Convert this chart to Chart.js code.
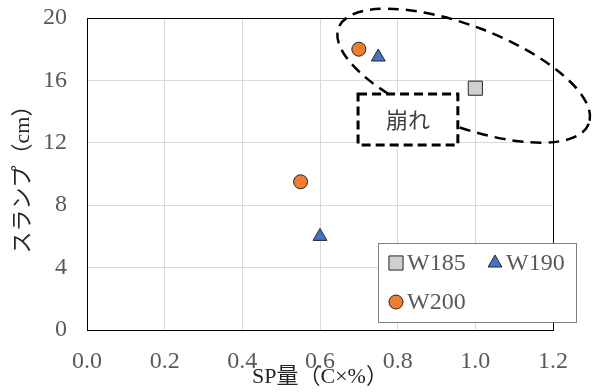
<!DOCTYPE html>
<html>
<head>
<meta charset="utf-8">
<script src="https://cdn.jsdelivr.net/npm/chart.js@4.4.1/dist/chart.umd.min.js"></script>
<style>
  html, body { margin: 0; padding: 0; background: #fff; }
  #wrap { width: 592px; height: 392px; }
</style>
</head>
<body>
<div id="wrap"><canvas id="chart" width="592" height="392"></canvas></div>
<script>
// data
const seriesNames = ['W185', 'W190', 'W200'];
const w185_x = [1.0];
const w185_y = [15.5];
const w190_x = [0.75, 0.6];
const w190_y = [17.5, 6];
const w200_x = [0.7, 0.55];
const w200_y = [18, 9.5];
const xTicks = [0, 0.2, 0.4, 0.6, 0.8, 1.0, 1.2];
const yTicks = [0, 4, 8, 12, 16, 20];
const noteText = '崩れ';

const SERIF = '"Liberation Serif", "Times New Roman", "DejaVu Serif", "Noto Sans CJK JP", serif';

function pts(xs, ys) {
  return xs.map((x, i) => ({ x: x, y: ys[i] }));
}

// dashed ellipse + dashed "崩れ" box, plus the framed legend
const extras = {
  id: 'extras',
  afterDatasetsDraw(chart) {
    const { ctx, chartArea: a, scales: { x, y } } = chart;
    ctx.save();
    // frame on top and right
    ctx.strokeStyle = '#000';
    ctx.lineWidth = 1;
    ctx.strokeRect(a.left + 0.5, a.top + 0.5, a.right - a.left, a.bottom - a.top);

    // ellipse around the upper points
    ctx.setLineDash([11, 7]);
    ctx.lineWidth = 2.5;
    ctx.beginPath();
    ctx.ellipse(x.getPixelForValue(0.97), y.getPixelForValue(16.3), 134, 50, 21 * Math.PI / 180, 0, Math.PI * 2);
    ctx.stroke();

    // box with label
    const bx1 = x.getPixelForValue(0.698), bx2 = x.getPixelForValue(0.955);
    const by1 = y.getPixelForValue(15.13), by2 = y.getPixelForValue(11.86);
    ctx.fillStyle = '#fff';
    ctx.fillRect(bx1, by1, bx2 - bx1, by2 - by1);
    ctx.setLineDash([9, 5]);
    ctx.lineWidth = 3;
    ctx.strokeRect(bx1, by1, bx2 - bx1, by2 - by1);
    ctx.setLineDash([]);
    ctx.fillStyle = '#404040';
    ctx.font = '22px "Noto Sans CJK JP", sans-serif';
    ctx.textAlign = 'center';
    ctx.textBaseline = 'middle';
    ctx.fillText(noteText, (bx1 + bx2) / 2, (by1 + by2) / 2);
    ctx.restore();
  },
  afterDraw(chart) {
    const { ctx, chartArea: a } = chart;
    const ds = chart.data.datasets;
    const lx = a.right - 175, ly = a.bottom - 87, lw = 198, lh = 79;
    ctx.save();
    ctx.fillStyle = '#fff';
    ctx.fillRect(lx, ly, lw, lh);
    ctx.strokeStyle = '#7f7f7f';
    ctx.lineWidth = 1;
    ctx.strokeRect(lx + 0.5, ly + 0.5, lw, lh);
    const slots = [[lx + 18, ly + 20], [lx + 117, ly + 20], [lx + 18, ly + 59]];
    ctx.font = '24px ' + SERIF;
    ctx.textBaseline = 'middle';
    ctx.textAlign = 'left';
    ds.forEach((d, i) => {
      const [px, py] = slots[i];
      ctx.fillStyle = d.backgroundColor;
      ctx.strokeStyle = d.borderColor;
      ctx.lineWidth = 1;
      Chart.helpers.drawPoint(ctx, {
        pointStyle: d.pointStyle,
        radius: d.pointRadius,
        rotation: 0,
        borderWidth: 1
      }, px, py);
      ctx.fillStyle = '#595959';
      ctx.fillText(d.label, px + 11, py + 1);
    });
    ctx.restore();
  }
};

new Chart(document.getElementById('chart'), {
  type: 'scatter',
  data: {
    datasets: [
      {
        label: seriesNames[0],
        data: pts(w185_x, w185_y),
        pointStyle: 'rect',
        pointRadius: 10,
        backgroundColor: '#d0cece',
        borderColor: '#262626',
        borderWidth: 1
      },
      {
        label: seriesNames[1],
        data: pts(w190_x, w190_y),
        pointStyle: 'triangle',
        pointRadius: 8,
        backgroundColor: '#4472c4',
        borderColor: '#262626',
        borderWidth: 1
      },
      {
        label: seriesNames[2],
        data: pts(w200_x, w200_y),
        pointStyle: 'circle',
        pointRadius: 7,
        backgroundColor: '#ed7d31',
        borderColor: '#262626',
        borderWidth: 1
      }
    ]
  },
  options: {
    responsive: false,
    animation: false,
    devicePixelRatio: 1,
    layout: { padding: { top: 18, right: 39, left: 0, bottom: 0 } },
    plugins: {
      legend: { display: false },
      tooltip: { enabled: false }
    },
    scales: {
      x: {
        type: 'linear',
        min: 0,
        max: 1.2,
        afterBuildTicks: axis => { axis.ticks = xTicks.map(v => ({ value: v })); },
        afterFit: axis => {
          axis.height = 62;
          axis.paddingLeft = 0;
          axis.paddingRight = 0;
        },
        ticks: {
          callback: v => Number(v).toFixed(1),
          font: { family: SERIF, size: 24 },
          color: '#595959',
          padding: 17,
          maxRotation: 0
        },
        grid: { color: '#d9d9d9', drawTicks: false },
        border: { display: true, color: '#000', width: 1 },
        title: {
          display: true,
          text: 'SP量（C×%）',
          font: { family: SERIF, size: 22, lineHeight: 1 },
          color: '#262626',
          padding: { top: 0, bottom: 4 }
        }
      },
      y: {
        min: 0,
        max: 20,
        afterBuildTicks: axis => { axis.ticks = yTicks.map(v => ({ value: v })); },
        afterFit: axis => {
          axis.width = 87;
          axis.paddingTop = 0;
          axis.paddingBottom = 0;
        },
        ticks: {
          font: { family: SERIF, size: 24 },
          color: '#595959',
          padding: 20
        },
        grid: { color: '#d9d9d9', drawTicks: false },
        border: { display: true, color: '#000', width: 1 },
        title: {
          display: true,
          text: 'スランプ（cm）',
          font: { family: SERIF, size: 22, lineHeight: 1.2 },
          color: '#262626',
          padding: { top: 10, bottom: 0 }
        }
      }
    }
  },
  plugins: [extras]
});
</script>
</body>
</html>
